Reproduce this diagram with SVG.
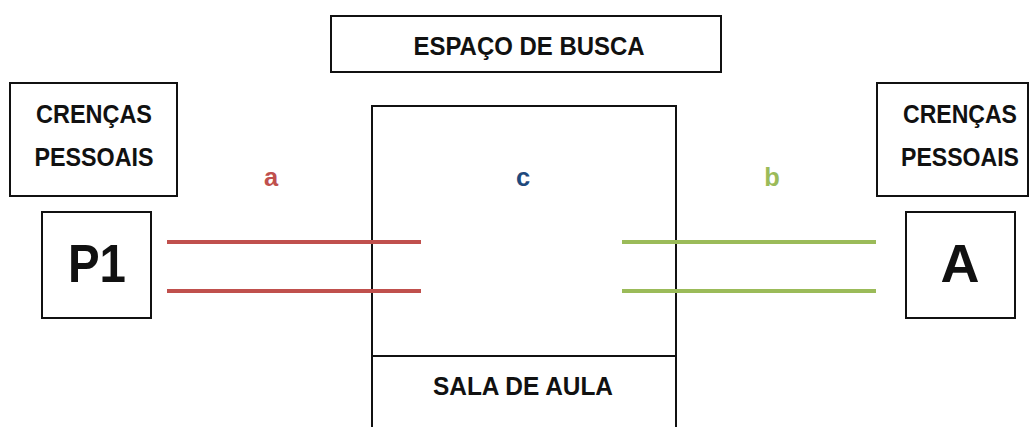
<svg xmlns="http://www.w3.org/2000/svg" width="1031" height="427" viewBox="0 0 1031 427">
<style>
.box{fill:#fff;stroke:#111;stroke-width:2}
.t{font-family:"Liberation Sans",Arial,sans-serif;font-weight:bold;font-size:25.5px;fill:#111;text-anchor:middle}
.big{font-size:54px}
.red{stroke:#c0504d;stroke-width:4}
.green{stroke:#9bbb59;stroke-width:4}
</style>
<rect width="1031" height="427" fill="#fff"/>
<g id="espaco">
<rect class="box" x="331" y="16" width="390" height="56"/>
<text class="t" x="529" y="55" textLength="231" lengthAdjust="spacingAndGlyphs">ESPAÇO DE BUSCA</text>
</g>
<g id="sala">
<rect class="box" x="372" y="106" width="304" height="330"/>
<line x1="372" y1="356" x2="676" y2="356" stroke="#111" stroke-width="2"/>
<text class="t" x="523" y="395" textLength="180" lengthAdjust="spacingAndGlyphs">SALA DE AULA</text>
<text class="t" x="523" y="186" style="fill:#1f497d">c</text>
</g>
<g id="crencas-left">
<rect class="box" x="10" y="83" width="167" height="113"/>
<text class="t" x="94" y="123" textLength="116" lengthAdjust="spacingAndGlyphs">CRENÇAS</text>
<text class="t" x="94" y="166" textLength="119" lengthAdjust="spacingAndGlyphs">PESSOAIS</text>
</g>
<g id="p1">
<rect class="box" x="42" y="212" width="109" height="106"/>
<text class="t big" x="97" y="282" textLength="58" lengthAdjust="spacingAndGlyphs">P1</text>
</g>
<g id="crencas-right">
<rect class="box" x="877" y="83" width="151" height="113"/>
<text class="t" x="960" y="123" textLength="114" lengthAdjust="spacingAndGlyphs">CRENÇAS</text>
<text class="t" x="960" y="166" textLength="118" lengthAdjust="spacingAndGlyphs">PESSOAIS</text>
</g>
<g id="a-node">
<rect class="box" x="906" y="212" width="109" height="106"/>
<text class="t big" x="960" y="282">A</text>
</g>
<g id="connectors">
<line class="red" x1="167" y1="242" x2="421" y2="242"/>
<line class="red" x1="167" y1="291" x2="421" y2="291"/>
<text class="t" x="271" y="186" style="fill:#c0504d">a</text>
<line class="green" x1="622" y1="242" x2="876" y2="242"/>
<line class="green" x1="622" y1="291" x2="876" y2="291"/>
<text class="t" x="772" y="186" style="fill:#9bbb59">b</text>
</g>
</svg>
